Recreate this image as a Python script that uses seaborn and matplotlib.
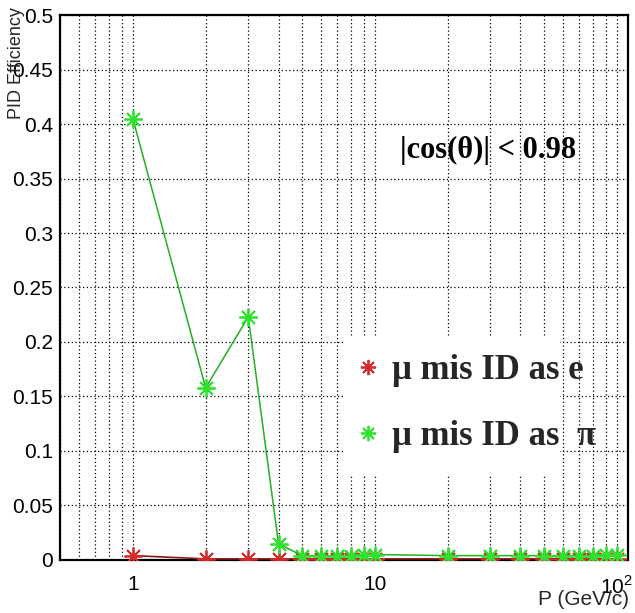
import numpy as np
import pandas as pd
import matplotlib
matplotlib.use("Agg")
import matplotlib.pyplot as plt
from matplotlib.lines import Line2D
from matplotlib.patches import Rectangle
from matplotlib.ticker import LogLocator, FixedLocator, MultipleLocator, NullFormatter, FixedFormatter
import seaborn as sns

# Momentum points (GeV/c)
momentum = [1, 2, 3, 4, 5, 6, 7, 8, 9, 10, 20, 30, 40, 50, 60, 70, 80, 90, 100]
# Mis-identification efficiencies
mu_as_e = [0.004, 0.001, 0.001, 0.001, 0.001, 0.001, 0.001, 0.001, 0.001, 0.001,
           0.001, 0.001, 0.001, 0.001, 0.001, 0.001, 0.001, 0.001, 0.001]
mu_as_pi = [0.405, 0.158, 0.223, 0.015, 0.004, 0.004, 0.004, 0.004, 0.005, 0.005,
            0.004, 0.004, 0.004, 0.004, 0.004, 0.004, 0.004, 0.005, 0.005]

labels = ["\u03bc mis ID as e", "\u03bc mis ID as  \u03c0"]
cut_text = "|cos(\u03b8)| < 0.98"
y_ticks = [0, 0.05, 0.1, 0.15, 0.2, 0.25, 0.3, 0.35, 0.4, 0.45, 0.5]
y_tick_labels = ["0", "0.05", "0.1", "0.15", "0.2", "0.25", "0.3", "0.35", "0.4", "0.45", "0.5"]

sns.set_theme(style="white")
plt.rcParams["font.family"] = ["Liberation Sans", "DejaVu Sans"]
plt.rcParams["mathtext.fontset"] = "custom"
plt.rcParams["mathtext.rm"] = "Liberation Sans"

df = pd.DataFrame({
    "P": momentum * 2,
    "eff": mu_as_e + mu_as_pi,
    "series": [labels[0]] * len(momentum) + [labels[1]] * len(momentum),
})

red = "#d42a2a"
green = "#2fe22f"
star = (8, 2, 0)
serif_bold = {"family": ["Liberation Serif", "DejaVu Serif"], "weight": "bold"}

fig = plt.figure(figsize=(6.35, 6.13), dpi=100)
ax = fig.add_axes([0.0945, 0.0865, 0.894, 0.889])

sns.lineplot(data=df[df.series == labels[0]], x="P", y="eff", ax=ax, color="#8a1a1a",
             linewidth=1.2, marker=star, markersize=13, markeredgewidth=1.3,
             markeredgecolor=red, legend=False, zorder=3)
sns.lineplot(data=df[df.series == labels[1]], x="P", y="eff", ax=ax, color="#22b022",
             linewidth=1.1, marker=star, markersize=13, markeredgewidth=1.3,
             markeredgecolor=green, legend=False, zorder=4)

ax.set_xscale("log")
ax.set_xlim(0.5, 111)
ax.set_ylim(0, 0.5)

# axis ticks
ax.xaxis.set_major_locator(FixedLocator([1, 10, 100]))
ax.xaxis.set_major_formatter(FixedFormatter(["1", "10", r"$10^{2}$"]))
ax.xaxis.set_minor_locator(LogLocator(base=10, subs=np.arange(2, 10)))
ax.xaxis.set_minor_formatter(NullFormatter())
ax.yaxis.set_major_locator(FixedLocator(y_ticks))
ax.yaxis.set_major_formatter(FixedFormatter(y_tick_labels))
ax.yaxis.set_minor_locator(MultipleLocator(0.01))

ax.tick_params(axis="both", which="both", direction="in", top=False, right=False,
               colors="black", labelsize=15, width=1.5)
ax.tick_params(axis="y", which="major", length=13, pad=5)
ax.tick_params(axis="y", which="minor", length=7)
ax.tick_params(axis="x", which="major", length=14, pad=11)
ax.tick_params(axis="x", which="minor", length=8)

ax.grid(True, which="both", axis="x", color="black", linestyle=(0, (1, 2)), linewidth=0.9)
ax.grid(True, which="major", axis="y", color="black", linestyle=(0, (1, 2)), linewidth=0.9)

for s in ax.spines.values():
    s.set_color("black")
    s.set_linewidth(1.6)

ax.set_xlabel("P (GeV/c)", fontsize=15, loc="right", labelpad=0)
ax.set_ylabel("PID Efficiency", fontsize=13, loc="top", labelpad=2)
ax.xaxis.set_label_coords(1.003, -0.055)
ax.yaxis.set_label_coords(-0.062, 1.015)

ax.text(0.599, 0.752, cut_text, transform=ax.transAxes, fontsize=22,
        fontdict=serif_bold, color="black", ha="left", va="center")

# white legend pad (text runs past its right edge)
ax.add_patch(Rectangle((0.498, 0.156), 0.382, 0.253, transform=ax.transAxes,
                       facecolor="white", edgecolor="none", zorder=2.5))

handles = [Line2D([], [], linestyle="none", marker=star, markersize=11,
                  markeredgewidth=1.3, markeredgecolor=c, color=c) for c in (red, green)]
leg = ax.legend(handles, labels, loc="center left", bbox_to_anchor=(0.5176, 0.287),
                frameon=False, borderpad=0, borderaxespad=0, labelspacing=0.95,
                handletextpad=0.3, handlelength=0.8,
                prop={**serif_bold, "size": 25})
leg.set_zorder(5)

fig.savefig("out.png", dpi=100)
